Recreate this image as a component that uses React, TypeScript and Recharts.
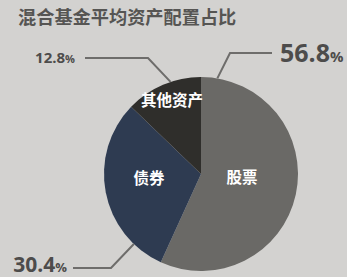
import React from "react";
import { PieChart, Pie, Cell } from "recharts";

const categories = ["股票", "债券", "其他资产"];
const values = [56.8, 30.4, 12.8];
const valueLabels = ["56.8", "30.4", "12.8"];
const colors = ["#6a6966", "#2e3b51", "#2f2e2b"];

const data = categories.map((name, i) => ({ name, value: values[i] }));

// layout for annotations (relative to pie center)
const innerR = [42, 53, 74];
const outer = [
  { angle: 9.7, elbow: [29, -121], end: [71, -121], text: [79, -112], anchor: "start", big: 25, small: 15 },
  { angle: 223.8, elbow: [-90, 94], end: [-128, 94], text: [-134, 98], anchor: "end", big: 21, small: 13 },
  { angle: 341.7, elbow: [-53, -116], end: [-116, -116], text: [-126, -111], anchor: "end", big: 15, small: 11 },
];

const numFont = "'Open Sans', 'Noto Sans', sans-serif";
const cjkFont = "'Noto Sans CJK SC', sans-serif";

const renderLabel = (props: any) => {
  const { cx, cy, outerRadius, midAngle, index } = props;
  const rad = (midAngle * Math.PI) / 180;
  const r = innerR[index];
  const lx = cx + r * Math.cos(rad);
  const ly = cy - r * Math.sin(rad);
  const o = outer[index];
  const a = (o.angle * Math.PI) / 180;
  const sx = cx + outerRadius * Math.sin(a);
  const sy = cy - outerRadius * Math.cos(a);
  return (
    <g>
      <text
        x={lx}
        y={ly}
        fill="#ffffff"
        fontSize={15.5}
        fontWeight={700}
        fontFamily={cjkFont}
        textAnchor="middle"
      >
        {categories[index]}
      </text>
      <polyline
        points={`${sx},${sy} ${cx + o.elbow[0]},${cy + o.elbow[1]} ${cx + o.end[0]},${cy + o.end[1]}`}
        fill="none"
        stroke="#6e6d6b"
        strokeWidth={2}
      />
      <text
        x={cx + o.text[0]}
        y={cy + o.text[1]}
        fill="#4d4c4b"
        fontFamily={numFont}
        fontWeight={700}
        textAnchor={o.anchor}
      >
        <tspan fontSize={o.big}>{valueLabels[index]}</tspan>
        <tspan fontSize={o.small}>%</tspan>
      </text>
    </g>
  );
};

export default function App() {
  return (
    <div
      style={{
        position: "absolute",
        left: 0,
        top: 0,
        width: 347,
        height: 277,
        background: "#d3d2d0",
        overflow: "hidden",
      }}
    >
      <div
        style={{
          position: "absolute",
          left: 18,
          top: 4,
          fontFamily: cjkFont,
          fontWeight: 700,
          fontSize: 18.2,
          color: "#565553",
          lineHeight: "24px",
          whiteSpace: "nowrap",
        }}
      >
        混合基金平均资产配置占比
      </div>
      <div style={{ position: "absolute", left: 0, top: 0 }}>
        <PieChart width={347} height={277}>
          <Pie
            data={data}
            dataKey="value"
            nameKey="name"
            cx={196}
            cy={169}
            outerRadius={97}
            startAngle={90}
            endAngle={-270}
            stroke="none"
            isAnimationActive={false}
            labelLine={false}
            label={renderLabel}
          >
            {data.map((d, i) => (
              <Cell key={d.name} fill={colors[i]} />
            ))}
          </Pie>
        </PieChart>
      </div>
    </div>
  );
}
